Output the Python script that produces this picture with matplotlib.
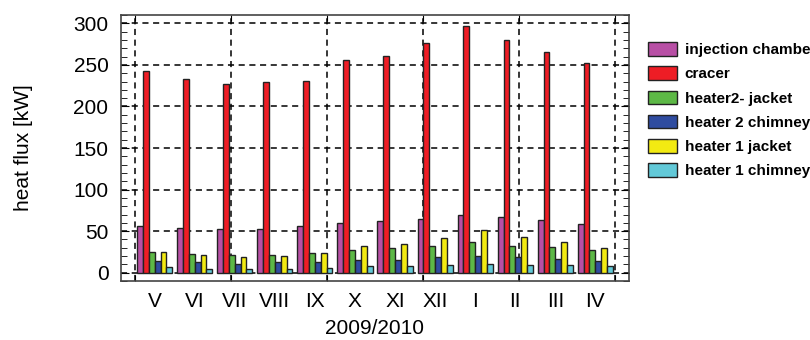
import numpy as np
import matplotlib
matplotlib.use("Agg")
import matplotlib.pyplot as plt
from matplotlib.ticker import MultipleLocator

plt.rcParams['font.family'] = ['Liberation Sans', 'DejaVu Sans']

months = ["V", "VI", "VII", "VIII", "IX", "X", "XI", "XII", "I", "II", "III", "IV"]
series_names = ["injection chamber", "cracer", "heater2- jacket",
                "heater 2 chimney", "heater 1 jacket", "heater 1 chimney"]

injection_chamber = [55.6, 54, 52.4, 52.4, 55.6, 60, 61.6, 64.8, 69.6, 66.4, 63.2, 58.4]
cracer = [242.8, 233.2, 227.2, 228.8, 230.4, 256.4, 261.2, 276.8, 296.8, 279.6, 266, 252.4]
heater2_jacket = [24.8, 22.8, 21.6, 21.6, 23.2, 27.6, 29.2, 32.4, 36.8, 32.4, 30.8, 27.6]
heater2_chimney = [14, 12.4, 10.8, 12.4, 12.4, 15.2, 15.2, 18.4, 20, 18.4, 16.8, 14]
heater1_jacket = [24.8, 21.6, 18.4, 20, 23.2, 32.4, 34, 41.6, 50.8, 43.2, 36.8, 29.2]
heater1_chimney = [6.4, 4.4, 4.4, 4.4, 6, 7.6, 7.6, 9.2, 10.8, 9.2, 9.2, 7.6]

colors = ["#B84FA5", "#EE1D25", "#5DB846", "#2F4CA0", "#F2EA12", "#62C9D8"]

data = [injection_chamber, cracer, heater2_jacket, heater2_chimney,
        heater1_jacket, heater1_chimney]

fig = plt.figure(figsize=(8.1, 3.4), dpi=100)
ax = fig.add_axes([121/810, 59/340, 508/810, 266/340])

x = np.arange(len(months))
w = 0.146
for k, (vals, c, name) in enumerate(zip(data, colors, series_names)):
    ax.bar(x + (k - 2.5) * w, vals, width=w, color=c, edgecolor="#222222",
           linewidth=1.0, label=name, zorder=3)

ax.set_xlim(-0.84, 11.84)
ax.set_ylim(-10, 310)

# grid positions split x range into 5 equal parts
gx = np.linspace(-0.5, 11.5, 6)
ax.set_xticks(gx)
ax.set_xticklabels([""] * len(gx))
ax.set_xticks(x, minor=True)
ax.set_xticklabels(months, minor=True, fontsize=15)
ax.tick_params(axis="x", which="minor", length=0, pad=8)
ax.tick_params(axis="x", which="major", direction="in", length=4, top=True)

ax.yaxis.set_major_locator(MultipleLocator(50))
ax.yaxis.set_minor_locator(MultipleLocator(10))
ax.tick_params(axis="y", which="both", direction="in", right=True, labelsize=15, pad=9)
ax.tick_params(axis="y", which="major", length=6)
ax.tick_params(axis="y", which="minor", length=4)

ax.grid(True, which="major", color="black", linestyle=(0, (4, 3)), linewidth=1.1, zorder=1)

for s in ax.spines.values():
    s.set_color("#444444")
    s.set_linewidth(1.2)

ax.set_ylabel("heat flux [kW]", fontsize=15, labelpad=29)
ax.set_xlabel("2009/2010", fontsize=15, labelpad=6)

# legend runs past the right edge, as in the original
fig.legend(loc="upper left", bbox_to_anchor=(642/810, 1 - 36/340), frameon=False,
           prop={"weight": "bold", "size": 11}, handlelength=1.9, handleheight=1.0,
           labelspacing=0.6, handletextpad=0.5, borderaxespad=0)

fig.savefig("out.png", dpi=100)
